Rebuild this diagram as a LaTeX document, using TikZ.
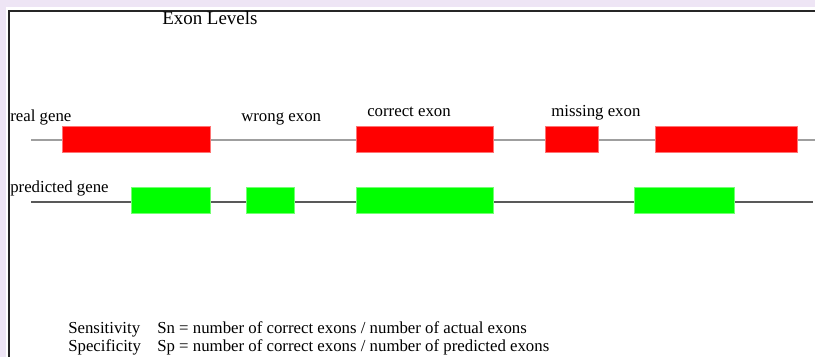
\documentclass[tikz,border=0pt]{standalone}
\usepackage{fontspec}
\setmainfont{Liberation Serif}
\usepackage{xcolor}
\definecolor{fond}{HTML}{EEE5F5}
\definecolor{rouge}{HTML}{FF0000}
\definecolor{vert}{HTML}{00FF00}
\tikzset{
  exonreel/.style={fill=rouge, draw=rouge!55!white, line width=0.4pt},
  exonpred/.style={fill=vert, draw=vert!55!white, line width=0.4pt},
  etiquette/.style={anchor=base west, inner sep=0pt, font=\fontsize{12.6}{14}\selectfont},
}

\begin{document}
\begin{tikzpicture}[x=0.75pt,y=-0.75pt]
%fond et cadre
\fill[fond] (0,0) rectangle (815,357);
\fill[white] (6,7) rectangle (815,357);
\useasboundingbox (0,0) rectangle (815,357);
\draw[line width=1.5pt, black!85] (9,357) -- (9,10.5) -- (815,10.5);

\node[etiquette, font=\fontsize{14.2}{16}\selectfont] (titre) at (162,24) {Exon Levels};

%lignes des genes
\coordinate (reelG) at (31,140);
\coordinate (reelD) at (815,140);
\coordinate (predG) at (31,202);
\coordinate (predD) at (813,202);
\draw[gray!75, line width=0.9pt] (reelG) -- (reelD);
\draw[black!65, line width=0.9pt] (predG) -- (predD);

%exons reels
\foreach \a/\b in {62/210, 356/493, 545/598, 655/797}
  \filldraw[exonreel] (\a,126) rectangle (\b,152);
%exons predits
\foreach \a/\b in {131/210, 246/294, 356/493, 634/734}
  \filldraw[exonpred] (\a,187) rectangle (\b,213);

\node[etiquette] (reel) at (10,121) {real gene};
\node[etiquette] (pred) at (10,192) {predicted gene};
\node[etiquette] (faux) at (241,121) {wrong exon};
\node[etiquette] (juste) at (367,116) {correct exon};
\node[etiquette] (manque) at (551,116) {missing exon};

%formules
\node[etiquette] (sens) at (68,333) {Sensitivity};
\node[etiquette] (sensf) at (157,333) {Sn = number of correct exons / number of actual exons};
\node[etiquette] (spec) at (68,351) {Specificity};
\node[etiquette] (specf) at (157,351) {Sp = number of correct exons / number of predicted exons};
\end{tikzpicture}
\end{document}
